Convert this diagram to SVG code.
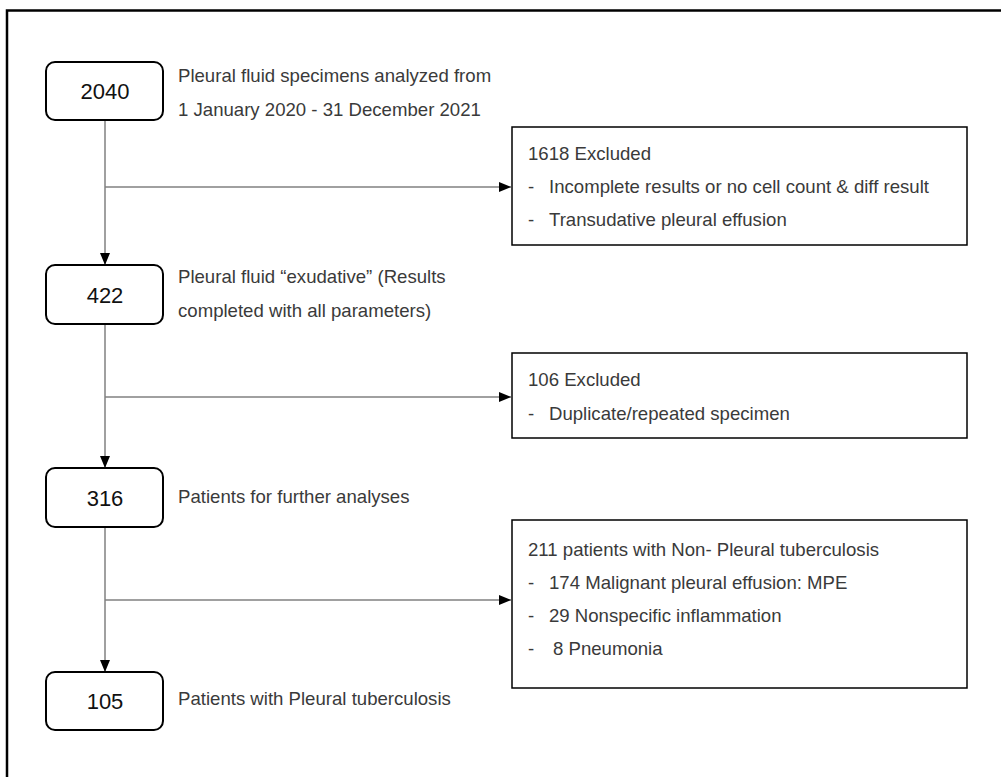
<svg xmlns="http://www.w3.org/2000/svg" width="1001" height="777" viewBox="0 0 1001 777">
<defs>
<marker id="arr" viewBox="0 0 12 10" refX="12" refY="5" markerWidth="12" markerHeight="10" markerUnits="userSpaceOnUse" orient="auto">
<path d="M0,0 L12,5 L0,10 Z" fill="#000"/>
</marker>
<style>
.frame{fill:none;stroke:#000;stroke-width:2.5}
.num{fill:#fff;stroke:#000;stroke-width:2}
.ex{fill:#fff;stroke:#000;stroke-width:1.5}
.n{font-family:"Liberation Sans",Arial,sans-serif;font-size:22px;fill:#111;text-anchor:middle}
.t{font-family:"Liberation Sans",Arial,sans-serif;font-size:18.6px;fill:#3a3a3a}
.c{fill:none;stroke:#808080;stroke-width:1.5}
</style>
</defs>
<rect width="1001" height="777" fill="#fff"/>
<path class="frame" d="M7,777 L7,10.5 L1001,10.5"/>
<g id="connectors">
<line class="c" x1="105" y1="120" x2="105" y2="265" marker-end="url(#arr)"/>
<line class="c" x1="105" y1="187" x2="511" y2="187" marker-end="url(#arr)"/>
<line class="c" x1="105" y1="324" x2="105" y2="468" marker-end="url(#arr)"/>
<line class="c" x1="105" y1="397" x2="511" y2="397" marker-end="url(#arr)"/>
<line class="c" x1="105" y1="527" x2="105" y2="672" marker-end="url(#arr)"/>
<line class="c" x1="105" y1="600" x2="511" y2="600" marker-end="url(#arr)"/>
</g>
<g id="n2040">
<rect class="num" x="46" y="62" width="117" height="58" rx="9"/>
<text class="n" x="105" y="99">2040</text>
<text class="t" x="178" y="82">Pleural fluid specimens analyzed from</text>
<text class="t" x="178" y="116">1 January 2020 - 31 December 2021</text>
</g>
<g id="ex1618">
<rect class="ex" x="512" y="127" width="455" height="118"/>
<text class="t" x="528" y="160">1618 Excluded</text>
<text class="t" x="528" y="193">-</text>
<text class="t" x="549" y="193">Incomplete results or no cell count &amp; diff result</text>
<text class="t" x="528" y="226">-</text>
<text class="t" x="549" y="226">Transudative pleural effusion</text>
</g>
<g id="n422">
<rect class="num" x="46" y="265" width="117" height="59" rx="9"/>
<text class="n" x="105" y="303">422</text>
<text class="t" x="178" y="283">Pleural fluid “exudative” (Results</text>
<text class="t" x="178" y="317">completed with all parameters)</text>
</g>
<g id="ex106">
<rect class="ex" x="512" y="353" width="455" height="85"/>
<text class="t" x="528" y="386">106 Excluded</text>
<text class="t" x="528" y="420">-</text>
<text class="t" x="549" y="420">Duplicate/repeated specimen</text>
</g>
<g id="n316">
<rect class="num" x="46" y="468" width="117" height="59" rx="9"/>
<text class="n" x="105" y="506">316</text>
<text class="t" x="178" y="503">Patients for further analyses</text>
</g>
<g id="ex211">
<rect class="ex" x="512" y="520" width="455" height="168"/>
<text class="t" x="528" y="556">211 patients with Non- Pleural tuberculosis</text>
<text class="t" x="528" y="589">-</text>
<text class="t" x="549" y="589">174 Malignant pleural effusion: MPE</text>
<text class="t" x="528" y="622">-</text>
<text class="t" x="549" y="622">29 Nonspecific inflammation</text>
<text class="t" x="528" y="655">-</text>
<text class="t" x="553" y="655">8  Pneumonia</text>
</g>
<g id="n105">
<rect class="num" x="46" y="672" width="117" height="58" rx="9"/>
<text class="n" x="105" y="709">105</text>
<text class="t" x="178" y="705">Patients with Pleural tuberculosis</text>
</g>
</svg>
